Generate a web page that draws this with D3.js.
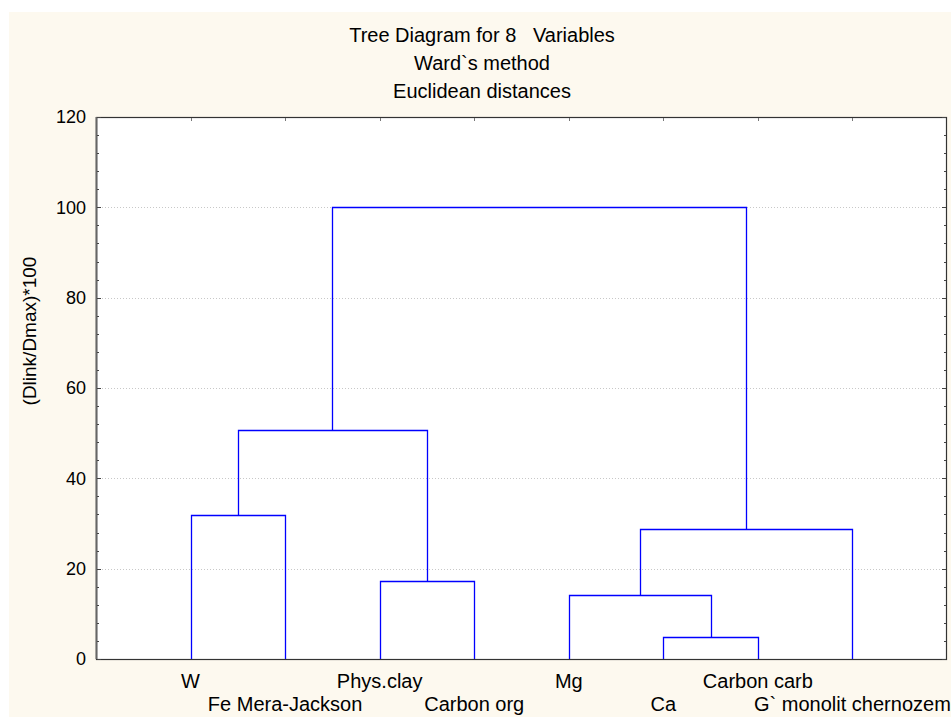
<!DOCTYPE html>
<html>
<head>
<meta charset="utf-8">
<script src="https://cdn.jsdelivr.net/npm/d3@7"></script>
<style>
  html, body { margin: 0; padding: 0; background: #ffffff; }
  text { font-family: "Liberation Sans", Arial, sans-serif; fill: #000; }
</style>
</head>
<body>
<script>
// leaves in the order they are drawn along the x axis
const leaves = ['W', 'Fe Mera-Jackson', 'Phys.clay', 'Carbon org', 'Mg', 'Ca', 'Carbon carb', 'G` monolit chernozem'];
// merges: ids 0..7 are leaves, each merge gets id 8 + its index
const linkA = [5, 4, 2, 9, 0, 12, 13];
const linkB = [6, 8, 3, 7, 1, 10, 11];
const linkHeight = [4.9, 14.1, 17.3, 28.8, 31.9, 50.7, 100];
const yTicks = [0, 20, 40, 60, 80, 100, 120];
const titles = ['Tree Diagram for 8   Variables', 'Ward`s method', 'Euclidean distances'];

const [svgWidth, svgHeight] = [951, 717];
const margin = { left: 96, right: 4, top: 117, bottom: 58 };
const [width, height] = [svgWidth - margin.left - margin.right, svgHeight - margin.top - margin.bottom];

function translate(x, y) {
    return 'translate(' + x + ',' + y + ')';
}

let svg = d3.select('body').append('svg')
    .attr('width', svgWidth)
    .attr('height', svgHeight);

// cream figure background
svg.append('rect')
    .attr('x', 9).attr('y', 12)
    .attr('width', svgWidth - 9).attr('height', svgHeight - 12)
    .attr('fill', '#fdf9ef');

let xScale = d3.scalePoint().domain(leaves).range([0, width]).padding(1);
let yScale = d3.scaleLinear().domain([0, 120]).range([height, 0]);

let chart = svg.append('g').attr('transform', translate(margin.left, margin.top));

chart.append('rect')
    .attr('width', width).attr('height', height)
    .attr('fill', '#ffffff');

// dotted grid
chart.selectAll('.grid')
    .data(yTicks.filter(d => d > 0 && d < 120))
    .enter().append('line')
    .attr('class', 'grid')
    .attr('x1', 0).attr('x2', width)
    .attr('y1', d => Math.round(yScale(d)) + 0.5)
    .attr('y2', d => Math.round(yScale(d)) + 0.5)
    .attr('stroke', '#c8c8c8')
    .attr('stroke-dasharray', '1,2');

// positions of every node (leaf or cluster)
let nodeX = leaves.map(d => xScale(d));
let nodeH = leaves.map(() => 0);
linkA.forEach((a, i) => {
    nodeX.push((nodeX[a] + nodeX[linkB[i]]) / 2);
    nodeH.push(linkHeight[i]);
});

let links = linkA.map((a, i) => ({ a: a, b: linkB[i], h: linkHeight[i] }));
const px = v => Math.round(v) + 0.5;

chart.selectAll('.link')
    .data(links)
    .enter().append('path')
    .attr('class', 'link')
    .attr('d', d => {
        let path = d3.path();
        path.moveTo(px(nodeX[d.a]), px(yScale(nodeH[d.a])));
        path.lineTo(px(nodeX[d.a]), px(yScale(d.h)));
        path.lineTo(px(nodeX[d.b]), px(yScale(d.h)));
        path.lineTo(px(nodeX[d.b]), px(yScale(nodeH[d.b])));
        return path.toString();
    })
    .attr('fill', 'none')
    .attr('stroke', '#0000ff')
    .attr('stroke-width', 1.3);

// frame
chart.append('rect')
    .attr('x', 0.5).attr('y', 0.5)
    .attr('width', width - 1).attr('height', height)
    .attr('fill', 'none')
    .attr('stroke', '#333')
    .attr('stroke-width', 1.2);
chart.append('line')
    .attr('x1', 0.5).attr('x2', 0.5).attr('y1', 0).attr('y2', height)
    .attr('stroke', '#666').attr('stroke-width', 2);

// left and right axes: inward ticks, labels on the left
let minor = d3.range(0, 121, 4);
chart.selectAll('.ytick')
    .data(minor)
    .enter().append('line')
    .attr('class', 'ytick')
    .attr('x1', 1).attr('x2', d => d % 20 === 0 ? 5 : 3)
    .attr('y1', d => px(yScale(d))).attr('y2', d => px(yScale(d)))
    .attr('stroke', '#444');
chart.selectAll('.ytickR')
    .data(minor)
    .enter().append('line')
    .attr('class', 'ytickR')
    .attr('x1', width - 1).attr('x2', d => width - (d % 20 === 0 ? 5 : 3))
    .attr('y1', d => px(yScale(d))).attr('y2', d => px(yScale(d)))
    .attr('stroke', '#444');
chart.selectAll('.xtickTop')
    .data(leaves)
    .enter().append('line')
    .attr('class', 'xtickTop')
    .attr('x1', d => px(xScale(d))).attr('x2', d => px(xScale(d)))
    .attr('y1', 1).attr('y2', 4)
    .attr('stroke', '#777');

chart.selectAll('.ylabel')
    .data(yTicks)
    .enter().append('text')
    .attr('class', 'ylabel')
    .attr('x', -10)
    .attr('y', d => yScale(d))
    .attr('dy', '0.35em')
    .attr('text-anchor', 'end')
    .style('font-size', '18px')
    .text(d => d);

// leaf labels, alternating rows, centred under each leaf
chart.selectAll('.leaf')
    .data(leaves)
    .enter().append('text')
    .attr('class', 'leaf')
    .attr('x', d => xScale(d))
    .attr('y', (d, i) => height + (i % 2 === 0 ? 29 : 52))
    .attr('text-anchor', 'middle')
    .style('font-size', '20px')
    .text(d => d);

// titles
svg.selectAll('.title')
    .data(titles)
    .enter().append('text')
    .attr('class', 'title')
    .attr('x', 482)
    .attr('y', (d, i) => 42 + i * 28)
    .attr('text-anchor', 'middle')
    .style('font-size', '20px')
    .style('white-space', 'pre')
    .text(d => d);

svg.append('text')
    .attr('transform', translate(36, 331) + ' rotate(-90)')
    .attr('text-anchor', 'middle')
    .style('font-size', '19px')
    .text('(Dlink/Dmax)*100');
</script>
</body>
</html>
